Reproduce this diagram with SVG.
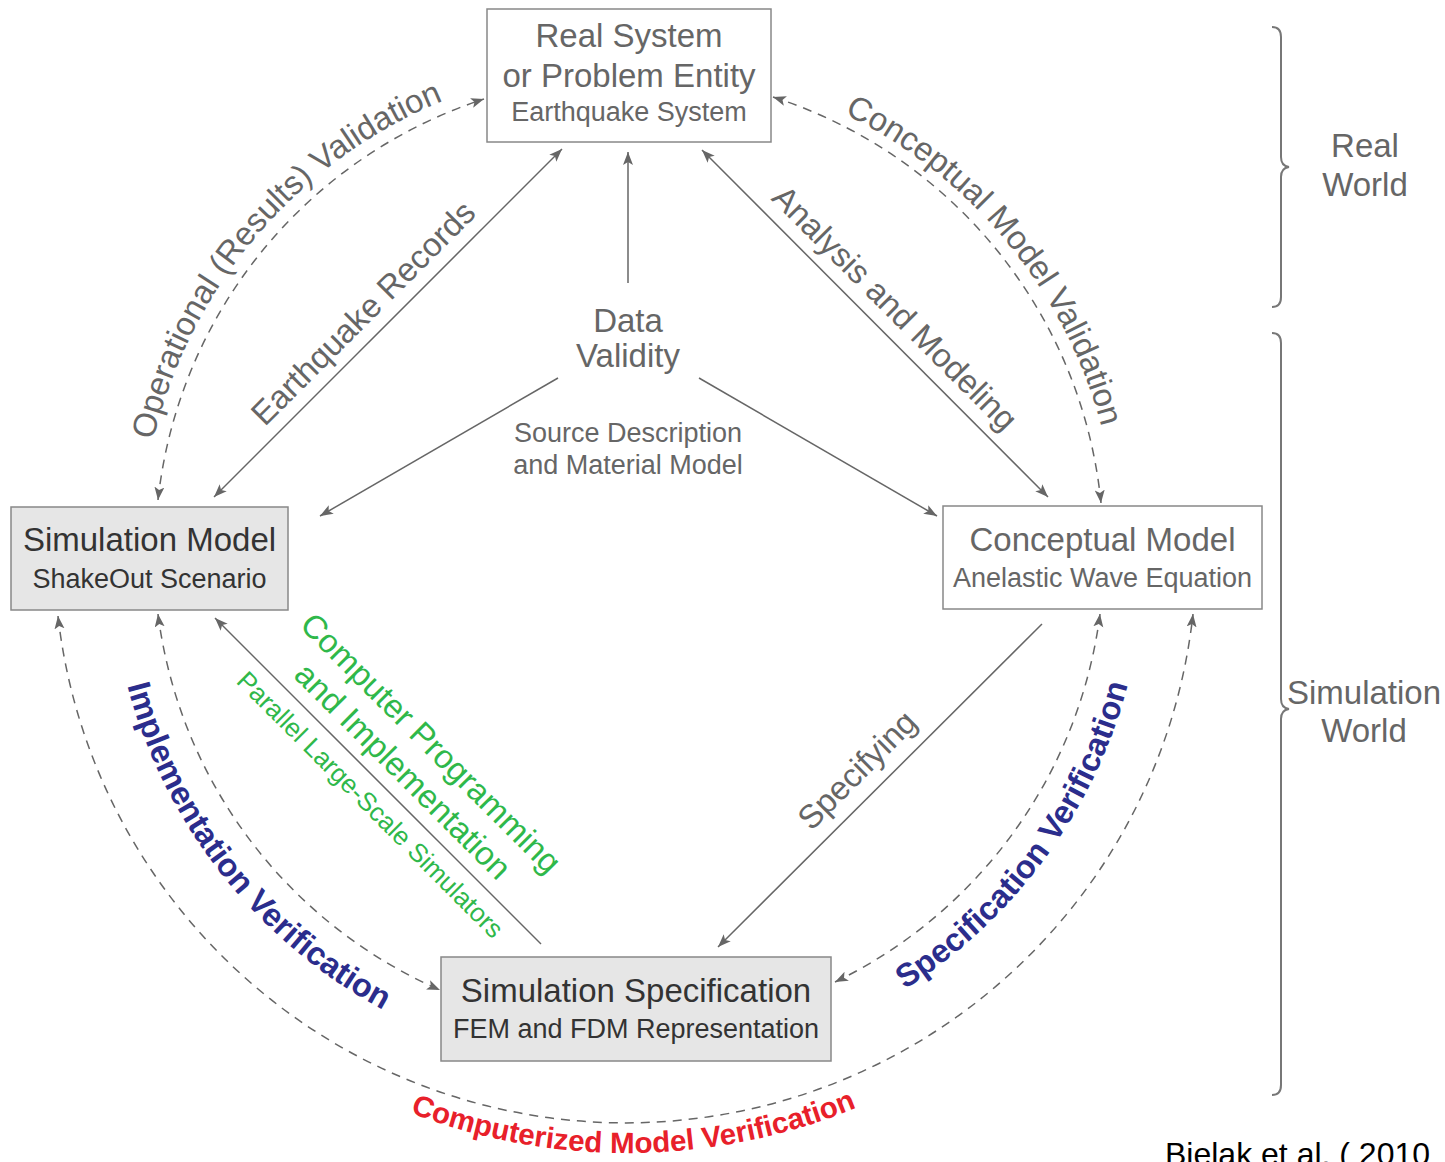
<svg xmlns="http://www.w3.org/2000/svg" xmlns:xlink="http://www.w3.org/1999/xlink" width="1445" height="1162" viewBox="0 0 1445 1162">
<style>
text{font-family:"Liberation Sans",Arial,sans-serif}
.box{stroke:#888;stroke-width:1.5}
.white{fill:#fff}
.grey{fill:#e6e6e6}
.t1{font-size:33px;text-anchor:middle}
.t2{font-size:27px;text-anchor:middle}
.lt{fill:#666}
.dk{fill:#333}
.ln{fill:none;stroke:#666;stroke-width:1.5}
.dash{stroke-dasharray:9,7}
.lbl{font-size:33px;fill:#666}
.blue{font-size:32.5px;font-weight:bold;fill:#2b2d8c}
.red{font-size:29.5px;font-weight:bold;fill:#e8202a}
.green{fill:#2fb84a}
.brace{fill:none;stroke:#777;stroke-width:2}
</style>
<defs>
<marker id="ah" markerUnits="userSpaceOnUse" markerWidth="16" markerHeight="12" refX="13" refY="5" orient="auto-start-reverse">
<path d="M0,0 L13,5 L0,10 L3,5 z" fill="#666"/>
</marker>
<path id="pOper" d="M168.1,716.2 A489,489 0 0,1 718.1,72.2"/>
<path id="pConc" d="M549.1,70.5 A489,489 0 0,1 1086.8,725.0"/>
<path id="pImpl" d="M147.0,360.7 A519,519 0 0,0 703.5,1066.6"/>
<path id="pSpec" d="M572.8,1066.0 A516,516 0 0,0 1101.3,345.2"/>
<path id="pComp" d="M106.5,856.5 A605,605 0 0,0 1154.3,844.5"/>
</defs>
<rect width="1445" height="1162" fill="#fff"/>

<g id="connectors">
<line class="ln" x1="562" y1="149" x2="214" y2="497" marker-start="url(#ah)" marker-end="url(#ah)"/>
<line class="ln" x1="628" y1="283" x2="628" y2="152" marker-end="url(#ah)"/>
<line class="ln" x1="558" y1="378" x2="320" y2="516" marker-end="url(#ah)"/>
<line class="ln" x1="699" y1="378" x2="937" y2="516" marker-end="url(#ah)"/>
<line class="ln" x1="702" y1="150" x2="1048" y2="497" marker-start="url(#ah)" marker-end="url(#ah)"/>
<line class="ln" x1="1042" y1="624" x2="718" y2="947" marker-end="url(#ah)"/>
<line class="ln" x1="541" y1="944" x2="215" y2="618" marker-end="url(#ah)"/>
<path class="ln dash" d="M158,500 A476,476 0 0,1 484,99" marker-start="url(#ah)" marker-end="url(#ah)"/>
<path class="ln dash" d="M773,97 A476,476 0 0,1 1101,503" marker-start="url(#ah)" marker-end="url(#ah)"/>
<path class="ln dash" d="M158,614 A476,476 0 0,0 440,990" marker-start="url(#ah)" marker-end="url(#ah)"/>
<path class="ln dash" d="M1100,614 A476,476 0 0,1 835,982" marker-start="url(#ah)" marker-end="url(#ah)"/>
<path class="ln dash" d="M58,616 A571,571 0 0,0 1193,614" marker-start="url(#ah)" marker-end="url(#ah)"/>

<text class="lbl"><textPath xlink:href="#pOper" href="#pOper" startOffset="50%" text-anchor="middle">Operational (Results) Validation</textPath></text>
<text class="lbl"><textPath xlink:href="#pConc" href="#pConc" startOffset="50%" text-anchor="middle">Conceptual Model Validation</textPath></text>
<text class="blue"><textPath xlink:href="#pImpl" href="#pImpl" startOffset="50%" text-anchor="middle">Implementation Verification</textPath></text>
<text class="blue"><textPath xlink:href="#pSpec" href="#pSpec" startOffset="50%" text-anchor="middle">Specification Verification</textPath></text>
<text class="red"><textPath xlink:href="#pComp" href="#pComp" startOffset="50%" text-anchor="middle">Computerized Model Verification</textPath></text>

<text class="lbl" text-anchor="middle" transform="translate(371,321) rotate(-45)">Earthquake Records</text>
<text class="lbl" text-anchor="middle" transform="translate(887,316) rotate(45)">Analysis and Modeling</text>
<text class="lbl" text-anchor="middle" transform="translate(865,778) rotate(-45)">Specifying</text>
<text class="green" font-size="33" text-anchor="middle" transform="translate(423,751) rotate(45)">Computer Programming</text>
<text class="green" font-size="33" text-anchor="middle" transform="translate(395,779) rotate(45)">and Implementation</text>
<text class="green" font-size="26" text-anchor="middle" transform="translate(364,811) rotate(45)">Parallel Large-Scale Simulators</text>
</g>

<g id="data-validity">
<text class="t1 lt" x="628" y="332">Data</text>
<text class="t1 lt" x="628" y="367">Validity</text>
<text class="t2 lt" x="628" y="442">Source Description</text>
<text class="t2 lt" x="628" y="474">and Material Model</text>
</g>

<g id="real-system">
<rect class="box white" x="487" y="9" width="284" height="133"/>
<text class="t1 lt" x="629" y="47">Real System</text>
<text class="t1 lt" x="629" y="87">or Problem Entity</text>
<text class="t2 lt" x="629" y="121">Earthquake System</text>
</g>

<g id="simulation-model">
<rect class="box grey" x="11" y="507" width="277" height="103"/>
<text class="t1 dk" x="149.5" y="551">Simulation Model</text>
<text class="t2 dk" x="149.5" y="588">ShakeOut Scenario</text>
</g>

<g id="conceptual-model">
<rect class="box white" x="943" y="506" width="319" height="103"/>
<text class="t1 lt" x="1102.5" y="551">Conceptual Model</text>
<text class="t2 lt" x="1102.5" y="587">Anelastic Wave Equation</text>
</g>

<g id="simulation-specification">
<rect class="box grey" x="441" y="957" width="390" height="104"/>
<text class="t1 dk" x="636" y="1002">Simulation Specification</text>
<text class="t2 dk" x="636" y="1038">FEM and FDM Representation</text>
</g>

<g id="real-world">
<path class="brace" d="M1272,27 Q1281,27 1281,37 L1281,157 Q1281,166 1289,167 Q1281,168 1281,177 L1281,297 Q1281,307 1272,307"/>
<text class="t1 lt" x="1365" y="157">Real</text>
<text class="t1 lt" x="1365" y="196">World</text>
</g>

<g id="simulation-world">
<path class="brace" d="M1272,333 Q1281,333 1281,343 L1281,699 Q1281,708 1289,709 Q1281,710 1281,719 L1281,1085 Q1281,1095 1272,1095"/>
<text class="t1 lt" x="1364" y="704">Simulation</text>
<text class="t1 lt" x="1364" y="742">World</text>
</g>

<g id="citation">
<text x="1165" y="1165" font-size="32" fill="#000">Bielak et al. ( 2010</text>
</g>
</svg>
